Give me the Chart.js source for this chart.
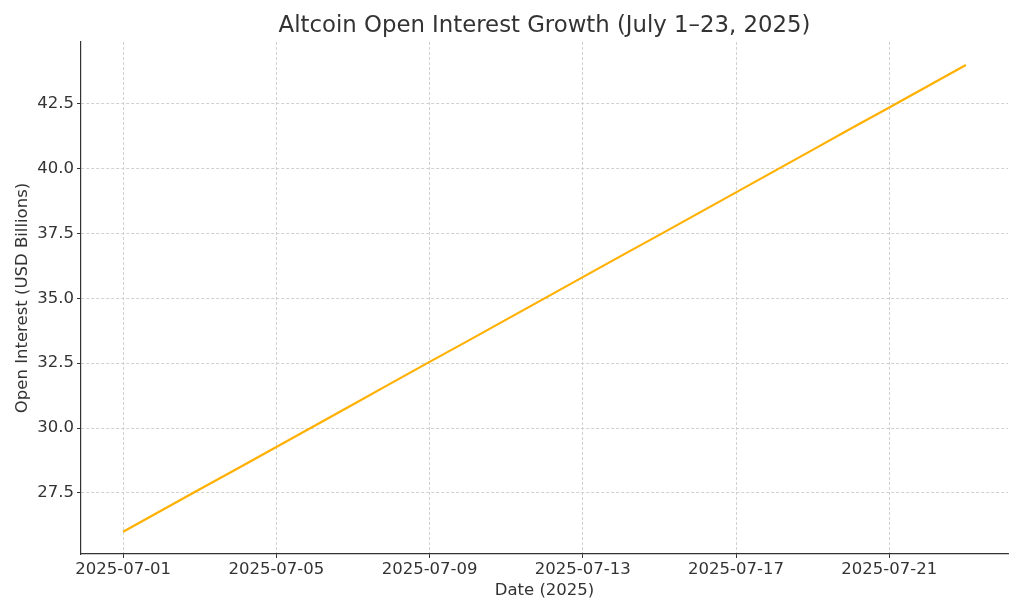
<!DOCTYPE html>
<html>
<head>
<meta charset="utf-8">
<script src="https://cdn.jsdelivr.net/npm/chart.js@4/dist/chart.umd.min.js"></script>
<style>
html,body{margin:0;padding:0;background:#fff;}
#wrap{width:1024px;height:614px;position:relative;}
</style>
</head>
<body>
<div id="wrap"><canvas id="c" width="1024" height="614"></canvas></div>
<script>
const titleText = 'Altcoin Open Interest Growth (July 1–23, 2025)';
const xTitle = 'Date (2025)';
const yTitle = 'Open Interest (USD Billions)';
const dates = ['2025-07-01','2025-07-02','2025-07-03','2025-07-04','2025-07-05','2025-07-06','2025-07-07','2025-07-08','2025-07-09','2025-07-10','2025-07-11','2025-07-12','2025-07-13','2025-07-14','2025-07-15','2025-07-16','2025-07-17','2025-07-18','2025-07-19','2025-07-20','2025-07-21','2025-07-22','2025-07-23'];
const openInterest = [26.00,26.82,27.64,28.45,29.27,30.09,30.91,31.73,32.55,33.36,34.18,35.00,35.82,36.64,37.45,38.27,39.09,39.91,40.73,41.55,42.36,43.18,44.00];
const xTickLabels = ['2025-07-01','2025-07-05','2025-07-09','2025-07-13','2025-07-17','2025-07-21'];
const yTickValues = [27.5,30.0,32.5,35.0,37.5,40.0,42.5];

const FONT = 'DejaVu Sans';
const points = dates.map((d,i)=>({x:i,y:openInterest[i]}));
const xTickIdx = xTickLabels.map(l=>dates.indexOf(l));

const titlePlugin = {
  id:'mplTitle',
  afterDraw(chart){
    const ctx=chart.ctx, a=chart.chartArea;
    ctx.save();
    ctx.font = '22.8px "'+FONT+'"';
    ctx.fillStyle='#333333';
    ctx.textAlign='center';
    ctx.textBaseline='middle';
    ctx.fillText(titleText,(a.left+a.right)/2,26);
    ctx.restore();
  }
};

new Chart(document.getElementById('c'),{
  type:'line',
  data:{datasets:[{data:points,borderColor:'#FFB000',borderWidth:2.2,pointRadius:0,fill:false,tension:0}]},
  options:{
    responsive:false,animation:false,
    layout:{padding:{top:42,right:16,left:0,bottom:0}},
    plugins:{legend:{display:false},tooltip:{enabled:false},title:{display:false}},
    scales:{
      x:{
        type:'linear',min:-1.1,max:23.1,
        afterBuildTicks(s){s.ticks=xTickIdx.map(v=>({value:v}));},
        afterFit(s){s.height=60;},
        ticks:{callback:(v)=>dates[v]||'',font:{family:FONT,size:16.5},color:'#333333',padding:2,maxRotation:0,autoSkip:false},
        grid:{color:'#cccccc',lineWidth:0.9,tickLength:4,tickColor:'#333333',tickWidth:1},
        border:{display:true,color:'#333333',width:1.2,dash:[3,2]},
        title:{display:true,text:xTitle,font:{family:FONT,size:16.5},color:'#333333',padding:{top:0,bottom:13}}
      },
      y:{
        type:'linear',min:25.14,max:44.89,
        afterBuildTicks(s){s.ticks=yTickValues.map(v=>({value:v}));},
        afterFit(s){s.width=81;},
        ticks:{callback:(v)=>Number(v).toFixed(1),font:{family:FONT,size:16.5},color:'#333333',padding:3},
        grid:{color:'#cccccc',lineWidth:0.9,tickLength:4,tickColor:'#333333',tickWidth:1},
        border:{display:true,color:'#333333',width:1.2,dash:[3,2]},
        title:{display:true,text:yTitle,font:{family:FONT,size:16.5},color:'#333333',padding:{top:13,bottom:4}}
      }
    }
  },
  plugins:[titlePlugin]
});
</script>
</body>
</html>
